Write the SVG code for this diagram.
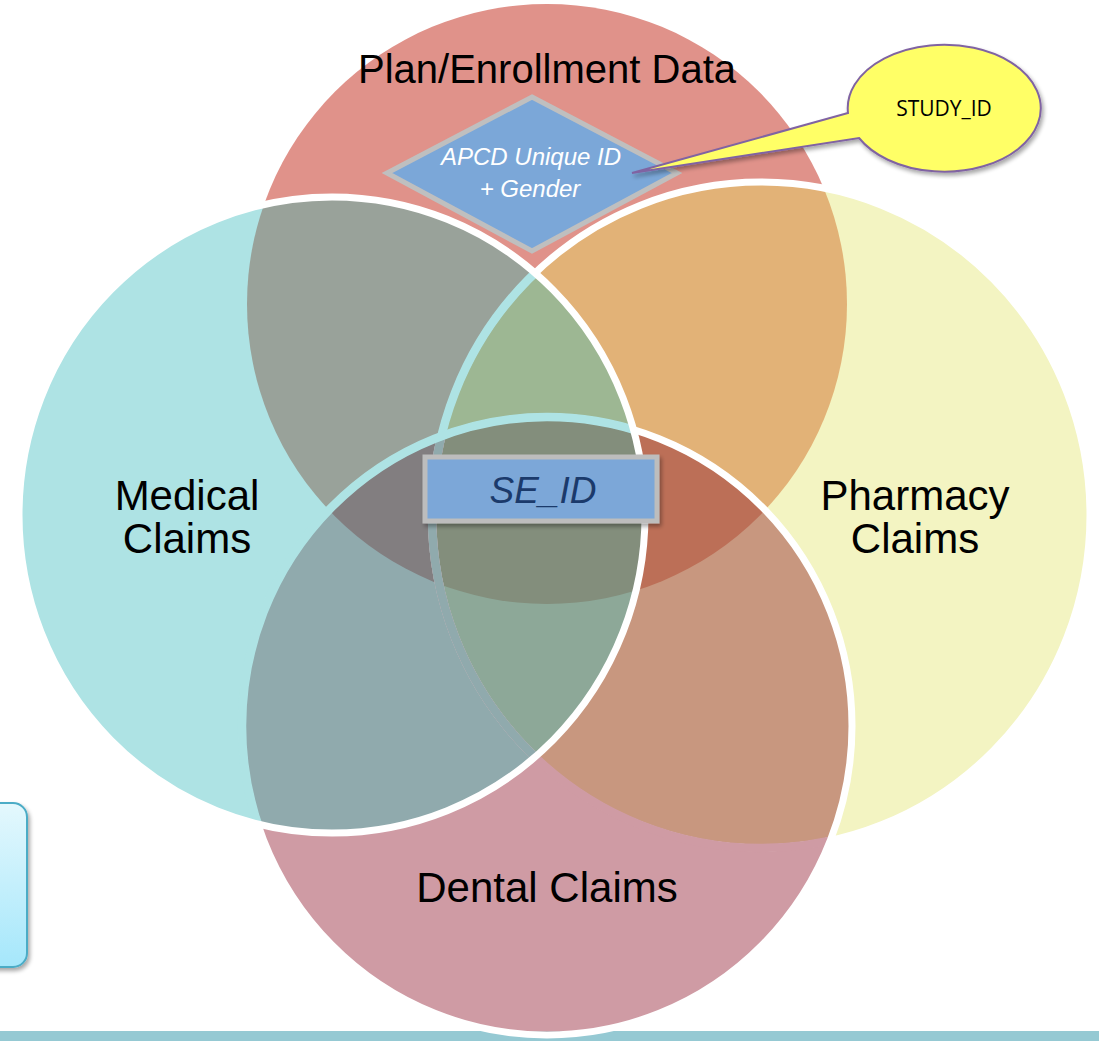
<svg xmlns="http://www.w3.org/2000/svg" xmlns:xlink="http://www.w3.org/1999/xlink" width="1099" height="1041" viewBox="0 0 1099 1041">
<style>
.lbl{font-family:"Liberation Sans",Arial,sans-serif;fill:#000;text-anchor:middle}
.big{font-size:42px}
.ital{font-family:"Liberation Sans",Arial,sans-serif;font-style:italic;text-anchor:middle}
.ws{fill:none;stroke-width:7}
.wt{fill:none;stroke-width:8.5}
</style>
<defs>
<ellipse id="eP" cx="547" cy="304" rx="300" ry="300"/>
<ellipse id="eM" cx="332" cy="515" rx="313" ry="318"/>
<ellipse id="eY" cx="761" cy="515" rx="329" ry="333"/>
<ellipse id="eD" cx="547" cy="726" rx="305" ry="309"/>
<clipPath id="cP"><use href="#eP"/></clipPath>
<clipPath id="cM"><use href="#eM"/></clipPath>
<clipPath id="cY"><use href="#eY"/></clipPath>
<clipPath id="cD"><use href="#eD"/></clipPath>
<linearGradient id="gBox" x1="0" y1="0" x2="0" y2="1">
<stop offset="0" stop-color="#E4F8FD"/>
<stop offset="1" stop-color="#A5E7FB"/>
</linearGradient>
<filter id="sh" x="-20%" y="-20%" width="140%" height="150%">
<feGaussianBlur in="SourceAlpha" stdDeviation="2"/>
<feOffset dx="2" dy="3" result="b"/>
<feComponentTransfer><feFuncA type="linear" slope="0.35"/></feComponentTransfer>
<feMerge><feMergeNode/><feMergeNode in="SourceGraphic"/></feMerge>
</filter>
</defs>
<rect width="1099" height="1041" fill="#fff"/>

<g id="side-box">
<rect x="-30" y="803" width="57" height="164" rx="14" fill="url(#gBox)" stroke="#4BACC6" stroke-width="2" filter="url(#sh)"/>
</g>

<rect id="bottom-bar" x="0" y="1031" width="1099" height="10" fill="#95C9D3"/>

<g id="venn-fills">
<use href="#eP" fill="#E0928A"/>
<use href="#eY" fill="#F3F4C2"/>
<use href="#eD" fill="#CF9BA4"/>
<use href="#eM" fill="#AEE3E4"/>
<g clip-path="url(#cP)"><use href="#eM" fill="#99A29A"/><use href="#eY" fill="#E2B277"/><use href="#eD" fill="#C27A78"/></g>
<g clip-path="url(#cM)"><use href="#eY" fill="#9DB793"/><use href="#eD" fill="#90AAAD"/></g>
<g clip-path="url(#cY)"><use href="#eD" fill="#C8977F"/></g>
<g clip-path="url(#cP)"><g clip-path="url(#cM)"><use href="#eY" fill="#9DB793"/><use href="#eD" fill="#827E80"/></g></g>
<g clip-path="url(#cP)"><g clip-path="url(#cY)"><use href="#eD" fill="#BC6F57"/></g></g>
<g clip-path="url(#cM)"><g clip-path="url(#cY)"><use href="#eD" fill="#8DA898"/></g></g>
<g clip-path="url(#cP)"><g clip-path="url(#cM)"><g clip-path="url(#cY)"><use href="#eD" fill="#838E7C"/></g></g></g>
<g clip-path="url(#cD)"><rect x="0" y="1031" width="1099" height="10" fill="#8E7A87"/></g>
</g>

<g id="venn-outlines">
<use href="#eY" class="ws" stroke="#fff"/>
<g clip-path="url(#cM)"><use href="#eY" class="wt" stroke="#AEE3E4"/></g>
<g clip-path="url(#cD)"><use href="#eY" class="wt" stroke="#CF9BA4"/></g>
<g clip-path="url(#cD)"><g clip-path="url(#cM)"><use href="#eY" class="wt" stroke="#90AAAD"/></g></g>
<use href="#eD" class="ws" stroke="#fff"/>
<g clip-path="url(#cM)"><use href="#eD" class="wt" stroke="#AEE3E4"/></g>
<use href="#eM" class="ws" stroke="#fff"/>
</g>

<g id="plan-label"><text class="lbl" x="547" y="83" font-size="40">Plan/Enrollment Data</text></g>
<g id="medical-label"><text class="lbl big" x="187" y="510">Medical</text><text class="lbl big" x="187" y="553">Claims</text></g>
<g id="pharmacy-label"><text class="lbl big" x="915" y="510">Pharmacy</text><text class="lbl big" x="915" y="553">Claims</text></g>
<g id="dental-label"><text class="lbl big" x="547" y="902">Dental Claims</text></g>

<g id="apcd-id">
<polygon points="532,97 677,173 532,251 387,173" fill="#7BA7D8" stroke="#BFBFBF" stroke-width="5" stroke-linejoin="miter"/>
<text class="ital" x="531" y="165" font-size="24" fill="#fff">APCD Unique ID</text>
<text class="ital" x="530" y="197" font-size="24" fill="#fff">+ Gender</text>
</g>

<g id="se-id">
<rect x="425" y="457" width="232" height="64" fill="#7BA7D8" stroke="#BDBDBD" stroke-width="5" filter="url(#sh)"/>
<text class="ital" x="543" y="503" font-size="37" fill="#1B3A6B">SE_ID</text>
</g>

<g id="study-id">
<path d="M632,173 L848,113 A96.5,63.5 0 1 1 859,138 Z" fill="#FFFF66" stroke="#8064A2" stroke-width="2" filter="url(#sh)"/>
<text x="944" y="116" font-family="'Open Sans','Noto Sans',sans-serif" font-size="21" text-anchor="middle" fill="#000">STUDY_ID</text>
</g>
</svg>
